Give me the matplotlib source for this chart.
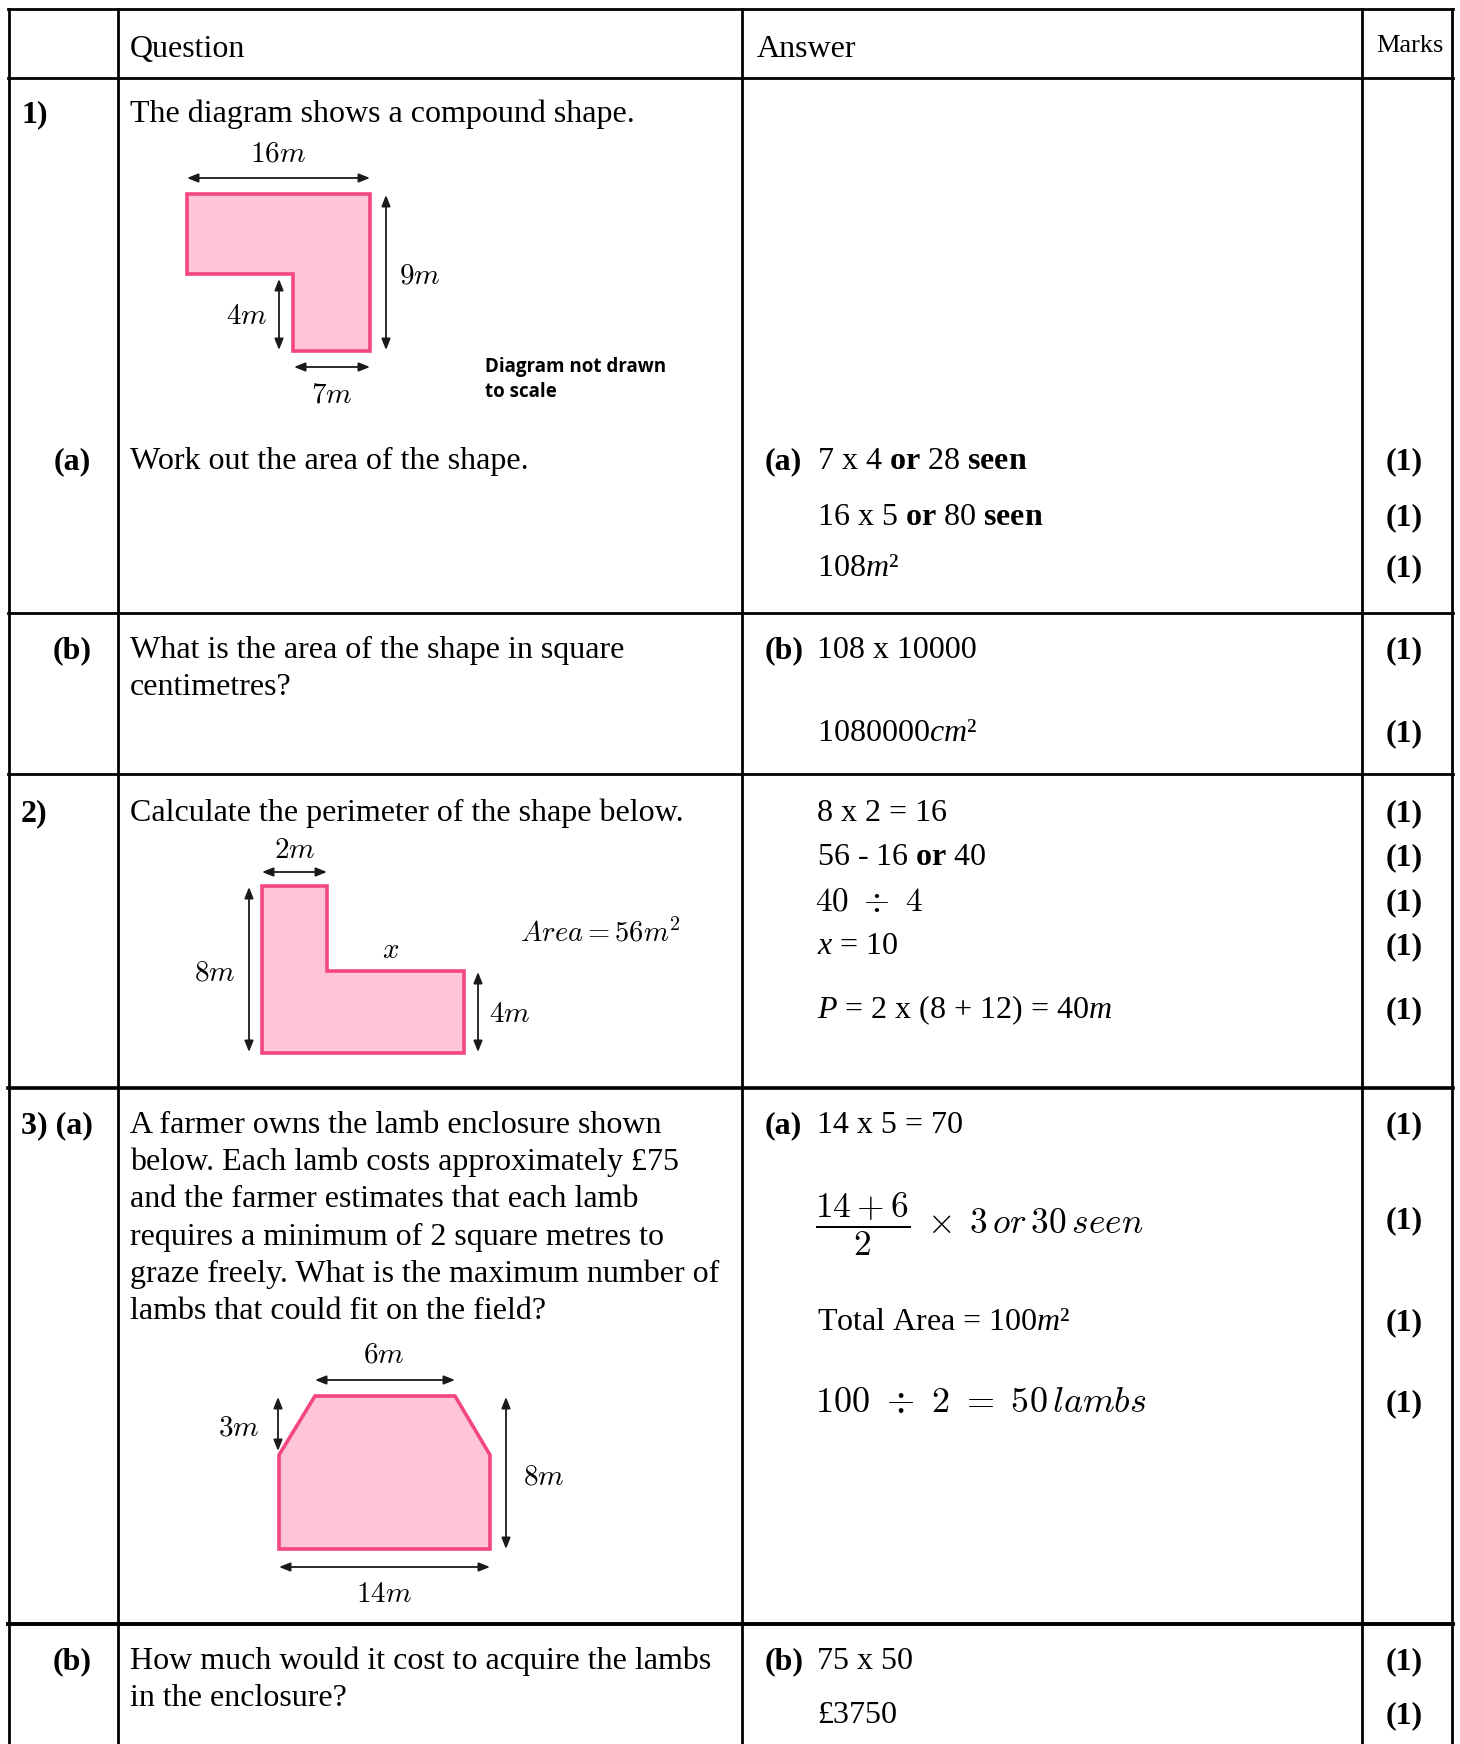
import matplotlib.pyplot as plt
from matplotlib.patches import Polygon

plt.rcParams['font.family'] = ['Liberation Serif', 'DejaVu Serif']
plt.rcParams['mathtext.fontset'] = 'custom'
plt.rcParams['mathtext.rm'] = 'Liberation Serif'
plt.rcParams['mathtext.it'] = 'Liberation Serif:italic'
plt.rcParams['mathtext.bf'] = 'Liberation Serif:bold'

# ---- table content ----
headers = ['Question', 'Answer', 'Marks']
part_labels = ['1)', '(a)', '(b)', '2)', '3) (a)', '(b)']
questions = [
    ['The diagram shows a compound shape.'],
    ['Work out the area of the shape.'],
    ['What is the area of the shape in square', 'centimetres?'],
    ['Calculate the perimeter of the shape below.'],
    ['A farmer owns the lamb enclosure shown',
     'below. Each lamb costs approximately £75',
     'and the farmer estimates that each lamb',
     'requires a minimum of 2 square metres to',
     'graze freely. What is the maximum number of',
     'lambs that could fit on the field?'],
    ['How much would it cost to acquire the lambs', 'in the enclosure?'],
]
answer_parts = ['(a)', '(b)', '', '(a)', '(b)']
answers = [
    [r'7 x 4 $\mathbf{or}$ 28 $\mathbf{seen}$', r'16 x 5 $\mathbf{or}$ 80 $\mathbf{seen}$', r'108$m$²'],
    ['108 x 10000', r'1080000$cm$²'],
    ['8 x 2 = 16', r'56 - 16 $\mathbf{or}$ 40', r'$40\ \div\ 4$', r'$x$ = 10',
     r'$P$ = 2 x (8 + 12) = 40$m$'],
    ['14 x 5 = 70', r'$\dfrac{14+6}{2}\;\times\;3\,or\,30\,seen$', r'Total Area = 100$m$²',
     r'$100\ \div\ 2\ =\ 50\,lambs$'],
    ['75 x 50', '£3750'],
]
# answers typeset in Computer Modern (LaTeX-like) in the original
cm_answers = {r'$40\ \div\ 4$': 24, r'$\dfrac{14+6}{2}\;\times\;3\,or\,30\,seen$': 25.5,
              r'$100\ \div\ 2\ =\ 50\,lambs$': 26}
mark_text = '(1)'

# diagram outlines and dimension labels
shape1 = [(187, 194), (370, 194), (370, 351), (293, 351), (293, 274), (187, 274)]
shape2 = [(262, 886), (327, 886), (327, 971), (464, 971), (464, 1053), (262, 1053)]
shape3 = [(315, 1396), (455, 1396), (490, 1455), (490, 1549), (279, 1549), (279, 1455)]
dim_labels1 = [r'$16m$', r'$9m$', r'$4m$', r'$7m$']
dim_labels2 = [r'$2m$', r'$8m$', r'$x$', r'$4m$']
dim_labels3 = [r'$6m$', r'$3m$', r'$8m$', r'$14m$']
area_note = r'$Area = 56m^2$'
scale_note = ['Diagram not drawn', 'to scale']

# ---- layout ----
col_x = [9, 118, 742, 1362, 1452]
row_y = [9, 78, 613, 774, 1088, 1624]
line_w = [2.0, 2.0, 2.0, 2.0, 2.6, 2.8]
DY = 2.5  # small baseline nudge for body text

fig = plt.figure(figsize=(14.6, 17.44), dpi=100)
ax = fig.add_axes([0, 0, 1, 1])
ax.set_xlim(0, 1460)
ax.set_ylim(1744, 0)
ax.axis('off')

for y, lw in zip(row_y, line_w):
    ax.plot([col_x[0] - 1, col_x[-1] + 1], [y, y], color='black', lw=lw, solid_capstyle='projecting')
for x in col_x:
    ax.plot([x, x], [row_y[0], 1744], color='black', lw=2.0)

FS = 23

# header
ax.text(130, 47 + DY, headers[0], fontsize=FS, va='center')
ax.text(757, 47 + DY, headers[1], fontsize=FS, va='center')
ax.text(1376, 44 + DY, headers[2], fontsize=19, va='center')

# part labels in first column
label_pos = [(21, 112, 'left'), (72, 459, 'center'), (72, 648, 'center'),
             (21, 811, 'left'), (21, 1123, 'left'), (72, 1659, 'center')]
for (x, y, ha), lab in zip(label_pos, part_labels):
    ax.text(x, y + DY, lab, fontsize=FS, fontweight='bold', va='center', ha=ha)

# question text
q_top = [112, 459, 648, 811, 1123, 1659]
q_step = 37.2
for y0, lines in zip(q_top, questions):
    for i, line in enumerate(lines):
        ax.text(130, y0 + i * q_step + DY, line, fontsize=FS, va='center')

# answers
ans_y = [[459, 515, 566], [648, 731], [811, 855, 900, 944, 1008], [1123, 1222, 1320, 1401], [1659, 1713]]
mark_y = [[459, 515, 566], [648, 731], [811, 855, 900, 944, 1008], [1123, 1218, 1320, 1401], [1659, 1713]]
for part, ys, lines, mys in zip(answer_parts, ans_y, answers, mark_y):
    if part:
        ax.text(765, ys[0] + DY, part, fontsize=FS, fontweight='bold', va='center')
    for y, line in zip(ys, lines):
        if line in cm_answers:
            ax.text(815, y + DY, line, fontsize=cm_answers[line], va='center', math_fontfamily='cm')
        else:
            ax.text(817, y + DY, line, fontsize=FS, va='center')
    for y in mys:
        ax.text(1404, y + DY, mark_text, fontsize=FS, fontweight='bold', va='center', ha='center')

# diagrams
fill_c = '#FEC5D9'
edge_c = '#F4467F'
for verts in (shape1, shape2, shape3):
    ax.add_patch(Polygon(verts, closed=True, facecolor=fill_c, edgecolor=edge_c,
                         lw=2.6, joinstyle='miter'))


def dim_arrow(x1, y1, x2, y2):
    ax.annotate('', xy=(x2, y2), xytext=(x1, y1),
                arrowprops=dict(arrowstyle='<|-|>,head_length=0.55,head_width=0.22',
                                color='#1a1a1a', lw=1.3, shrinkA=0, shrinkB=0,
                                mutation_scale=12))


def dim_label(x, y, s, size=21):
    ax.text(x, y + 2, s, fontsize=size, ha='center', va='center', math_fontfamily='cm')


# diagram 1
dim_arrow(187, 178, 370, 178)
dim_arrow(386, 195, 386, 350)
dim_arrow(279, 279, 279, 350)
dim_arrow(294, 367, 370, 367)
for (x, y), s in zip([(278, 153), (420, 275), (247, 315), (332, 393)], dim_labels1):
    dim_label(x, y, s)
ax.text(485, 367, scale_note[0], fontsize=13.5, fontweight='bold', family='Open Sans', va='center')
ax.text(485, 392, scale_note[1], fontsize=13.5, fontweight='bold', family='Open Sans', va='center')

# diagram 2
dim_arrow(262, 872, 327, 872)
dim_arrow(249, 887, 249, 1052)
dim_arrow(478, 972, 478, 1052)
for (x, y), s in zip([(295, 849), (215, 971), (391, 949), (510, 1013)], dim_labels2):
    dim_label(x, y, s)
ax.text(520, 933, area_note, fontsize=20.5, ha='left', va='center', math_fontfamily='cm')

# diagram 3
dim_arrow(315, 1380, 455, 1380)
dim_arrow(278, 1397, 278, 1451)
dim_arrow(506, 1397, 506, 1549)
dim_arrow(279, 1567, 490, 1567)
for (x, y), s in zip([(384, 1353), (239, 1426), (544, 1475), (384, 1593)], dim_labels3):
    dim_label(x, y, s)

fig.savefig('out.png', dpi=100, facecolor='white')
